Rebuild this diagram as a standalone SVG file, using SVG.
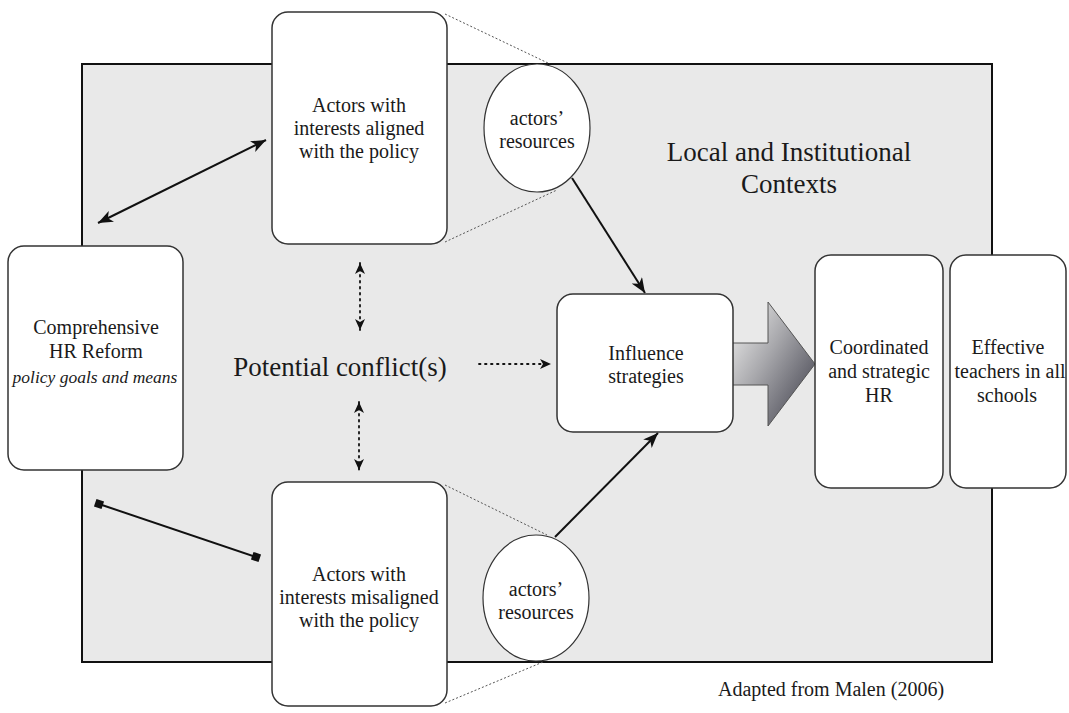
<svg xmlns="http://www.w3.org/2000/svg" width="1069" height="713" viewBox="0 0 1069 713">
<style>
.t{font-family:"Liberation Serif","Tinos","DejaVu Serif","Noto Serif",serif;font-size:20px;fill:#1a1a1a;text-anchor:middle}
.big{font-size:27px}
.it{font-style:italic;font-size:17.5px}
.box{fill:#fff;stroke:#333;stroke-width:1.5}
.solid{stroke:#111;stroke-width:2;fill:none}
.dots{stroke:#111;stroke-width:1.8;fill:none;stroke-dasharray:1.5,4.5;stroke-linecap:round}
.thin{stroke:#555;stroke-width:1;fill:none;stroke-dasharray:2,2}
</style>
<defs>
<marker id="ah" markerUnits="userSpaceOnUse" markerWidth="16" markerHeight="12" viewBox="0 0 16 12" refX="15" refY="6" orient="auto-start-reverse">
<path d="M0,0 L15,6 L0,12 L4,6 z" fill="#111"/>
</marker>
<marker id="ahs" markerUnits="userSpaceOnUse" markerWidth="12" markerHeight="10" viewBox="0 0 12 10" refX="11" refY="5" orient="auto-start-reverse">
<path d="M0,0 L11,5 L0,10 L3,5 z" fill="#111"/>
</marker>
<marker id="sq" markerUnits="userSpaceOnUse" markerWidth="10" markerHeight="10" viewBox="0 0 10 10" refX="5" refY="5" orient="auto">
<rect x="1" y="1" width="8" height="8" fill="#111"/>
</marker>
<linearGradient id="gr" gradientUnits="userSpaceOnUse" x1="732" y1="330" x2="815" y2="380">
<stop offset="0" stop-color="#e2e2e2"/>
<stop offset="0.45" stop-color="#a8a8ac"/>
<stop offset="1" stop-color="#5a5a64"/>
</linearGradient>
</defs>

<g id="context">
<rect x="82" y="64" width="910" height="598" fill="#e9e9e9" stroke="#111" stroke-width="2"/>
<text class="t big" x="789" y="161">Local and Institutional</text>
<text class="t big" x="789" y="193">Contexts</text>
</g>

<g id="connectors">
<line class="thin" x1="445" y1="14" x2="550" y2="64"/>
<line class="thin" x1="445" y1="242" x2="557" y2="190"/>
<line class="thin" x1="445" y1="485" x2="547" y2="535"/>
<line class="thin" x1="445" y1="703" x2="543" y2="662"/>
<line class="solid" x1="98" y1="223" x2="266" y2="140" marker-start="url(#ah)" marker-end="url(#ah)"/>
<line class="solid" x1="99" y1="504" x2="256" y2="557" marker-start="url(#sq)" marker-end="url(#sq)"/>
<line class="dots" x1="360" y1="263" x2="360" y2="330" marker-start="url(#ahs)" marker-end="url(#ahs)"/>
<line class="dots" x1="359" y1="402" x2="359" y2="470" marker-start="url(#ahs)" marker-end="url(#ahs)"/>
<line class="dots" x1="479" y1="364" x2="551" y2="364" marker-end="url(#ahs)"/>
<line class="solid" x1="572" y1="178" x2="645" y2="293" marker-end="url(#ah)"/>
<line class="solid" x1="555" y1="537" x2="658" y2="433" marker-end="url(#ah)"/>
<polygon points="732,343 768,343 768,302 815,364 768,426 768,385 732,385" fill="url(#gr)" stroke="#555" stroke-width="1"/>
</g>

<g id="reform">
<rect class="box" x="8" y="246" width="175" height="224" rx="16"/>
<text class="t" x="96" y="334">Comprehensive</text>
<text class="t" x="96" y="358">HR Reform</text>
<text class="t it" x="95" y="383">policy goals and means</text>
</g>

<g id="aligned">
<rect class="box" x="272" y="12" width="175" height="232" rx="16"/>
<text class="t" x="359" y="112">Actors with</text>
<text class="t" x="359" y="135">interests aligned</text>
<text class="t" x="359" y="158">with the policy</text>
</g>

<g id="res-top">
<ellipse cx="537" cy="128" rx="53" ry="64" fill="#fff" stroke="#333" stroke-width="1.2"/>
<text class="t" x="537" y="125">actors’</text>
<text class="t" x="537" y="148">resources</text>
</g>

<g id="misaligned">
<rect class="box" x="272" y="482" width="175" height="224" rx="16"/>
<text class="t" x="359" y="581">Actors with</text>
<text class="t" x="359" y="604">interests misaligned</text>
<text class="t" x="359" y="627">with the policy</text>
</g>

<g id="res-bottom">
<ellipse cx="536" cy="598" rx="53" ry="63" fill="#fff" stroke="#333" stroke-width="1.2"/>
<text class="t" x="536" y="596">actors’</text>
<text class="t" x="536" y="619">resources</text>
</g>

<g id="conflict">
<text class="t big" x="340" y="376">Potential conflict(s)</text>
</g>

<g id="influence">
<rect class="box" x="557" y="294" width="176" height="138" rx="16"/>
<text class="t" x="646" y="360">Influence</text>
<text class="t" x="646" y="383">strategies</text>
</g>

<g id="coordinated">
<rect class="box" x="815" y="255" width="128" height="233" rx="16"/>
<text class="t" x="879" y="354">Coordinated</text>
<text class="t" x="879" y="378">and strategic</text>
<text class="t" x="879" y="402">HR</text>
</g>

<g id="effective">
<rect class="box" x="950" y="255" width="116" height="233" rx="16"/>
<text class="t" x="1008" y="354">Effective</text>
<text class="t" x="1010" y="378">teachers in all</text>
<text class="t" x="1007" y="402">schools</text>
</g>

<g id="caption">
<text class="t" style="font-size:20px;text-anchor:start" x="718" y="696">Adapted from Malen (2006)</text>
</g>
</svg>
